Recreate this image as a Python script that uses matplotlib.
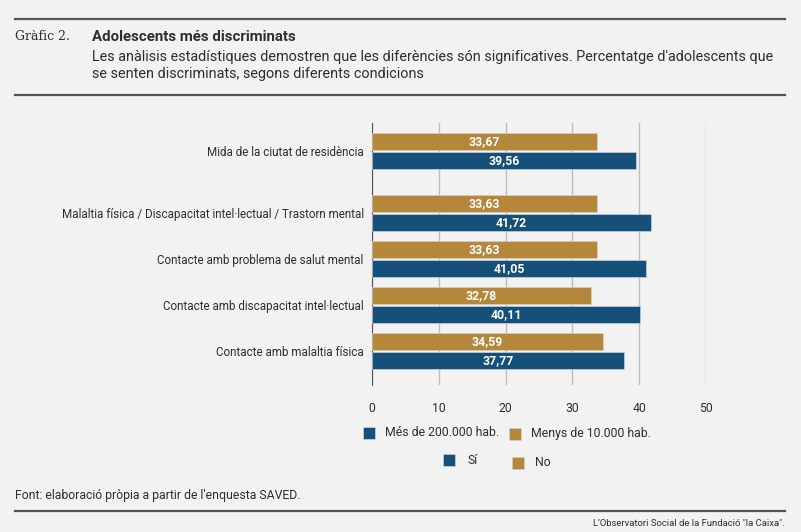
import matplotlib.pyplot as plt
from matplotlib.patches import Rectangle
from matplotlib.lines import Line2D

# dades del grafic
categories = ["Mida de la ciutat de residència",
              "Malaltia física / Discapacitat intel·lectual / Trastorn mental",
              "Contacte amb problema de salut mental",
              "Contacte amb discapacitat intel·lectual",
              "Contacte amb malaltia física"]
si = [39.56, 41.72, 41.05, 40.11, 37.77]   # blau: Més de 200.000 hab. / Sí
no = [33.67, 33.63, 33.63, 32.78, 34.59]   # daurat: Menys de 10.000 hab. / No
xticks = [0, 10, 20, 30, 40, 50]

blau = '#15507a'
daurat = '#b5873b'
bg = '#f2f2f2'
txt = '#2e2e2e'

plt.rcParams['font.family'] = ['Roboto', 'DejaVu Sans']

W, H = 801, 532
fig = plt.figure(figsize=(W / 100, H / 100), dpi=100, facecolor=bg)

def fx(px):
    return px / W

def fy(py):
    return 1 - py / H

# capcalera
for yy in [19, 95, 511]:
    fig.add_artist(Line2D([fx(15), fx(785)], [fy(yy), fy(yy)], color='#555555', lw=1.6))
fig.text(fx(15), fy(37), 'Gràfic 2.', family='DejaVu Serif', fontsize=9, color=txt, va='center')
fig.text(fx(92), fy(37), 'Adolescents més discriminats', fontsize=10.8, fontweight='bold', color=txt, va='center')
fig.text(fx(92), fy(57), "Les anàlisis estadístiques demostren que les diferències són significatives. Percentatge d'adolescents que",
         fontsize=10.4, color=txt, va='center')
fig.text(fx(92), fy(74), 'se senten discriminats, segons diferents condicions', fontsize=10.4, color=txt, va='center')

# eix
ax = fig.add_axes([fx(372), fy(385), fx(706) - fx(372), fy(123) - fy(385)])
ax.set_facecolor(bg)
pos = [4.35, 3, 2, 1, 0]
h = 0.37
off = 0.2
ax.barh([p + off for p in pos], no, height=h, color=daurat, edgecolor='#d8d0c0', lw=0.5, zorder=3)
ax.barh([p - off for p in pos], si, height=h, color=blau, edgecolor='#c8d0d8', lw=0.5, zorder=3)
for p, a, b in zip(pos, no, si):
    ax.text(a / 2, p + off, f'{a:.2f}'.replace('.', ','), color='white', fontweight='bold',
            fontsize=8.8, ha='center', va='center', zorder=4)
    ax.text(b / 2, p - off, f'{b:.2f}'.replace('.', ','), color='white', fontweight='bold',
            fontsize=8.8, ha='center', va='center', zorder=4)

ax.set_xlim(0, 50)
ax.set_ylim(-0.74, 4.96)
ax.set_xticks(xticks)
ax.set_xticklabels([str(t) for t in xticks], fontsize=8.8, color=txt)
ax.set_yticks(pos)
ax.set_yticklabels(categories, fontsize=8.4, color=txt)
ax.tick_params(axis='both', length=0, pad=6)
ax.tick_params(axis='x', pad=12)
ax.grid(axis='x', color='#bdbdbd', lw=1, zorder=0)
for s in ['top', 'right', 'bottom']:
    ax.spines[s].set_visible(False)
ax.spines['left'].set_color('#555555')

# llegenda
legend = [(363, 427, blau, 385, 'Més de 200.000 hab.'),
          (509, 428, daurat, 531, 'Menys de 10.000 hab.'),
          (443, 454, blau, 467, 'Sí'),
          (512, 457, daurat, 535, 'No')]
for x0, y0, c, tx, lab in legend:
    fig.add_artist(Rectangle((fx(x0), fy(y0 + 12)), fx(12), 12 / H, color=c, ec='#d0d0d0', lw=0.5))
    fig.text(fx(tx), fy(y0 + 6), lab, fontsize=8.8, color=txt, va='center')

# peu
fig.text(fx(15), fy(495), "Font: elaboració pròpia a partir de l'enquesta SAVED.", fontsize=8.8, color=txt, va='center')
fig.text(fx(785), fy(523), 'L\u2019Observatori Social de la Fundació "la Caixa".', fontsize=6.8, color=txt,
         va='center', ha='right')

fig.savefig('out.png', dpi=100, facecolor=bg)
